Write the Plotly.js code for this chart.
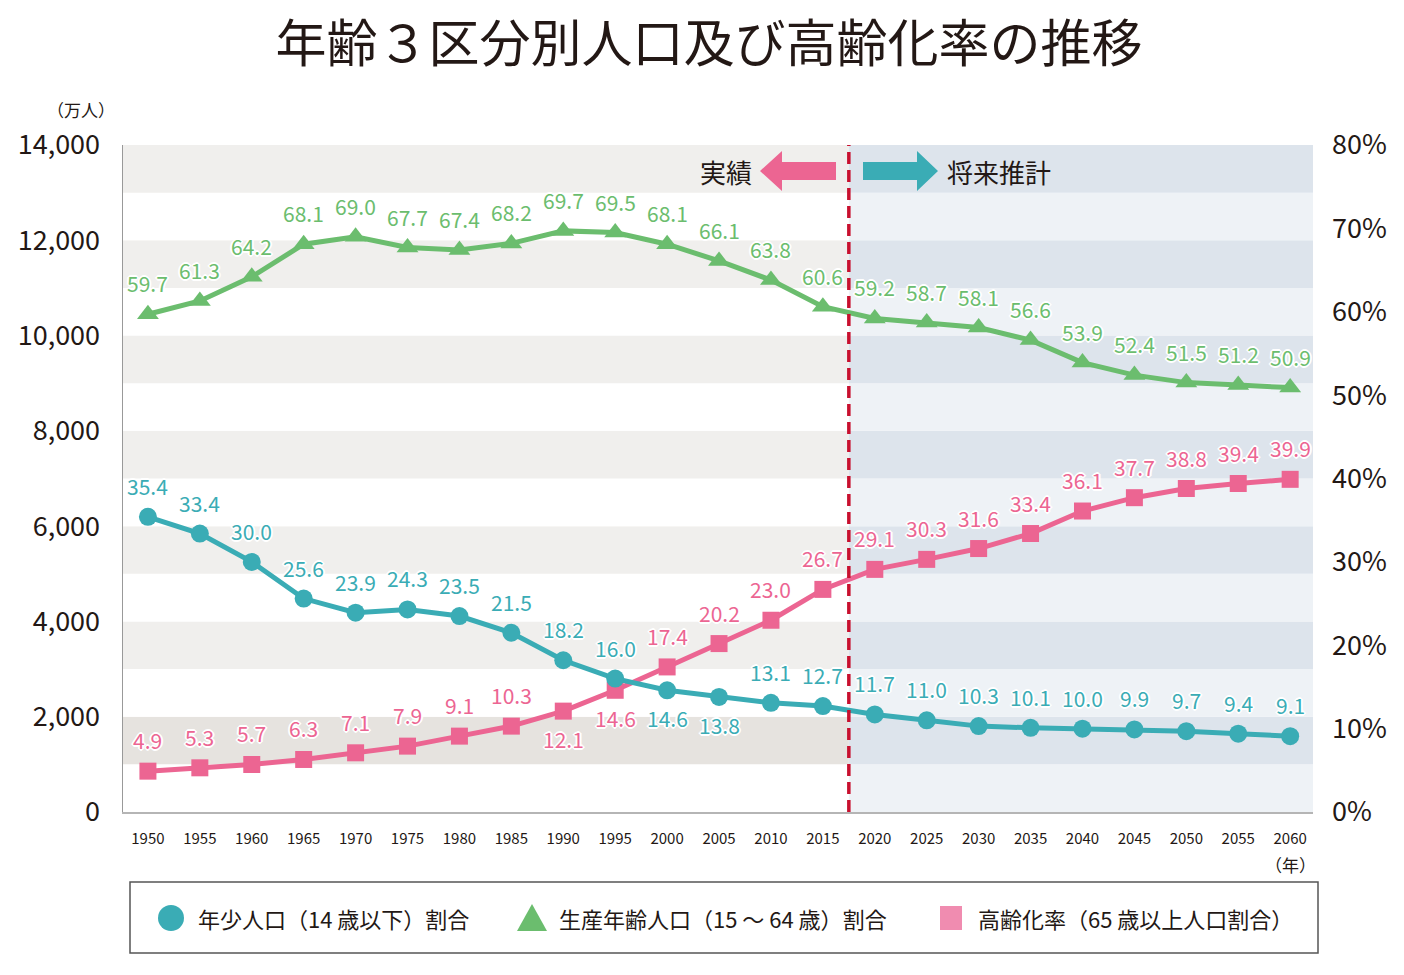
<!DOCTYPE html>
<html>
<head>
<meta charset="utf-8">
<script src="https://cdn.plot.ly/plotly-3.0.1.min.js"></script>
<style>
  html, body { margin: 0; padding: 0; background: #fff; }
  #chart { width: 1404px; height: 975px; }
</style>
</head>
<body>
<div id="chart"></div>
<script>
// years on the x axis
const years = [1950, 1955, 1960, 1965, 1970, 1975, 1980, 1985, 1990, 1995, 2000, 2005,
  2010, 2015, 2020, 2025, 2030, 2035, 2040, 2045, 2050, 2055, 2060];

// shares (%)
const youthPct = [35.4, 33.4, 30.0, 25.6, 23.9, 24.3, 23.5, 21.5, 18.2, 16.0, 14.6, 13.8,
  13.1, 12.7, 11.7, 11.0, 10.3, 10.1, 10.0, 9.9, 9.7, 9.4, 9.1];
const workingPct = [59.7, 61.3, 64.2, 68.1, 69.0, 67.7, 67.4, 68.2, 69.7, 69.5, 68.1, 66.1,
  63.8, 60.6, 59.2, 58.7, 58.1, 56.6, 53.9, 52.4, 51.5, 51.2, 50.9];
const agingPct = [4.9, 5.3, 5.7, 6.3, 7.1, 7.9, 9.1, 10.3, 12.1, 14.6, 17.4, 20.2,
  23.0, 26.7, 29.1, 30.3, 31.6, 33.4, 36.1, 37.7, 38.8, 39.4, 39.9];

// which labels sit under their marker
const youthBelow = [2000, 2005];
const agingBelow = [1990, 1995];

const seriesNames = ['年少人口（14 歳以下）割合', '生産年齢人口（15 ～ 64 歳）割合', '高齢化率（65 歳以上人口割合）'];
const leftTicks = [0, 2000, 4000, 6000, 8000, 10000, 12000, 14000];
const rightTicks = [0, 10, 20, 30, 40, 50, 60, 70, 80];

const FONT = '"Noto Sans CJK JP", "Noto Sans", sans-serif';
const INK = '#231815';
const TEAL = '#3aacb5';
const GREEN = '#6bbd6e';
const PINK = '#ec6592';
const SPLIT = 2017.5; // 実績 / 将来推計 boundary
const X0 = 1947.6, X1 = 2062.2;

// plot box in pixels: left 123, right 1313, top 145, bottom 812
const px = (x) => (x - 123) / 1190;
const py = (y) => (812 - y) / 667;

function series(y, color, symbol, size, name) {
  return {
    x: years, y: y, yaxis: 'y2', type: 'scatter', mode: 'lines+markers', name: name,
    line: { color: color, width: 5 },
    marker: { color: color, symbol: symbol, size: size },
    hoverinfo: 'x+y', showlegend: false,
  };
}

const traces = [
  series(agingPct, PINK, 'square', 17, seriesNames[2]),
  series(youthPct, TEAL, 'circle', 18, seriesNames[0]),
  series(workingPct, GREEN, 'triangle-up', 19, seriesNames[1]),
];

// background bands, 1000 wide, darker on odd thousands
const shapes = [];
for (let v = 0; v < 14000; v += 1000) {
  const dark = (v / 1000) % 2 === 1;
  const leftCol = !dark ? '#ffffff' : (v === 1000 ? '#e6e3df' : '#f0efed');
  const rightCol = dark ? '#dde4ec' : '#eef2f6';
  shapes.push({ type: 'rect', layer: 'below', xref: 'x', yref: 'y', x0: X0, x1: SPLIT, y0: v, y1: v + 1000,
    fillcolor: leftCol, line: { width: 0 } });
  shapes.push({ type: 'rect', layer: 'below', xref: 'x', yref: 'y', x0: SPLIT, x1: X1, y0: v, y1: v + 1000,
    fillcolor: rightCol, line: { width: 0 } });
}
// dashed boundary
shapes.push({ type: 'line', xref: 'x', yref: 'paper', x0: SPLIT, x1: SPLIT, y0: 0, y1: 1,
  line: { color: '#c8102e', width: 3.5, dash: '12px,6px' } });
// arrows
shapes.push({ type: 'path', xref: 'paper', yref: 'paper', fillcolor: PINK, line: { width: 0 },
  path: `M ${px(760)} ${py(171)} L ${px(782)} ${py(151)} L ${px(782)} ${py(162)} L ${px(836)} ${py(162)} ` +
        `L ${px(836)} ${py(180)} L ${px(782)} ${py(180)} L ${px(782)} ${py(191)} Z` });
shapes.push({ type: 'path', xref: 'paper', yref: 'paper', fillcolor: TEAL, line: { width: 0 },
  path: `M ${px(938)} ${py(171)} L ${px(917)} ${py(151)} L ${px(917)} ${py(162)} L ${px(863)} ${py(162)} ` +
        `L ${px(863)} ${py(180)} L ${px(917)} ${py(180)} L ${px(917)} ${py(191)} Z` });
// legend box and symbols
shapes.push({ type: 'rect', xref: 'paper', yref: 'paper', x0: px(130), x1: px(1318), y0: py(953), y1: py(882),
  fillcolor: 'rgba(0,0,0,0)', line: { color: '#555', width: 1.5 } });
shapes.push({ type: 'circle', xref: 'paper', yref: 'paper', x0: px(158), x1: px(184), y0: py(931), y1: py(905),
  fillcolor: TEAL, line: { width: 0 } });
shapes.push({ type: 'path', xref: 'paper', yref: 'paper', fillcolor: GREEN, line: { width: 0 },
  path: `M ${px(532)} ${py(904)} L ${px(547)} ${py(931)} L ${px(517)} ${py(931)} Z` });
shapes.push({ type: 'rect', xref: 'paper', yref: 'paper', x0: px(940), x1: px(962), y0: py(930), y1: py(906),
  fillcolor: '#f08cb0', line: { width: 0 } });

// value labels
const halo = '1px 1px 0 #fff, -1px -1px 0 #fff, 1px -1px 0 #fff, -1px 1px 0 #fff, 0 2px 0 #fff, 0 -2px 0 #fff, 2px 0 0 #fff, -2px 0 0 #fff';
function labels(vals, color, below) {
  return vals.map((v, i) => ({
    x: years[i], y: v, xref: 'x', yref: 'y2', showarrow: false,
    text: v.toFixed(1), yshift: below.includes(years[i]) ? -28 : 31,
    font: { family: FONT, size: 21, color: color, shadow: halo },
  }));
}

function note(text, x, y, anchor, size) {
  return { text: text, xref: 'paper', yref: 'paper', x: px(x), y: py(y), xanchor: anchor, yanchor: 'middle',
    showarrow: false, font: { family: FONT, size: size, color: INK } };
}

const annotations = [
  ...labels(agingPct, PINK, agingBelow),
  ...labels(youthPct, TEAL, youthBelow),
  ...labels(workingPct, GREEN, []),
  note('実績', 754, 171, 'right', 26),
  note('将来推計', 945, 171, 'left', 26),
  note('（万人）', 117, 110, 'right', 17),
  note('（年）', 1318, 864, 'right', 17),
  note(seriesNames[0], 196, 918, 'left', 22),
  note(seriesNames[1], 557, 918, 'left', 22),
  note(seriesNames[2], 976, 918, 'left', 22),
];

const layout = {
  width: 1404, height: 975,
  paper_bgcolor: '#fff', plot_bgcolor: '#fff',
  font: { family: FONT, color: INK },
  margin: { l: 123, r: 91, t: 145, b: 163 },
  showlegend: false,
  title: { text: '年齢３区分別人口及び高齢化率の推移', x: 0.505, xanchor: 'center', y: 0.955, yanchor: 'middle',
    font: { family: FONT, size: 51, color: INK } },
  xaxis: {
    range: [X0, X1], tickvals: years, ticktext: years.map(String),
    tickfont: { size: 15, color: INK }, ticks: '', ticklabelstandoff: 12,
    showgrid: false, zeroline: false, showline: true, linecolor: '#b5b5b5', linewidth: 2, fixedrange: true,
  },
  yaxis: {
    range: [0, 14000], tickvals: leftTicks, tickformat: ',d',
    tickfont: { size: 27, color: INK }, ticks: '', ticklabelstandoff: 16,
    showgrid: false, zeroline: false, showline: true, linecolor: '#999', linewidth: 1.5, fixedrange: true,
  },
  yaxis2: {
    range: [0, 80], tickmode: 'array', tickvals: rightTicks, ticktext: rightTicks.map((v) => v + '%'),
    overlaying: 'y', side: 'right',
    tickfont: { size: 27, color: INK }, ticks: '', ticklabelstandoff: 18,
    showgrid: false, zeroline: false, showline: false, fixedrange: true,
  },
  shapes: shapes,
  annotations: annotations,
};

Plotly.newPlot('chart', traces, layout, { displayModeBar: false, staticPlot: true });
</script>
</body>
</html>
